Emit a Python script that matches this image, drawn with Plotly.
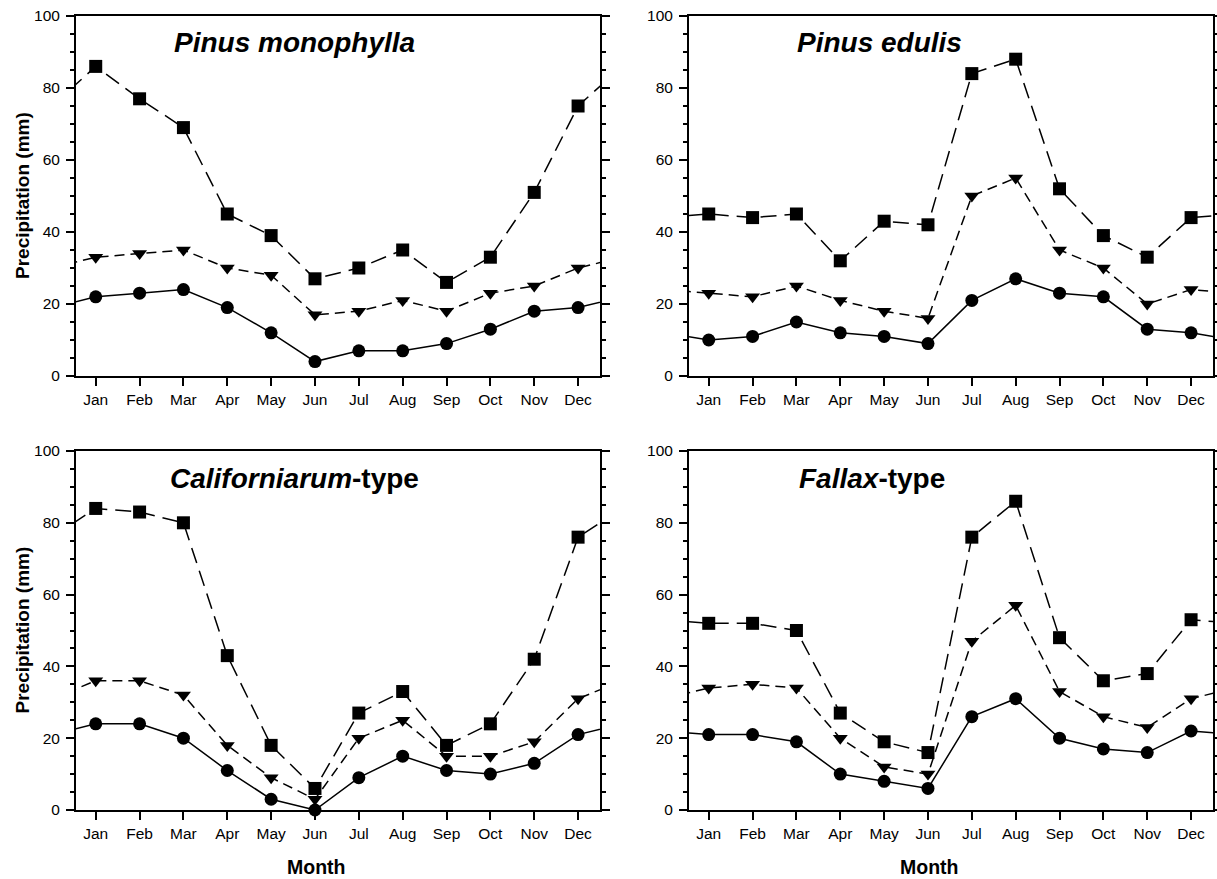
import plotly.graph_objects as go

months = ["Jan", "Feb", "Mar", "Apr", "May", "Jun", "Jul", "Aug", "Sep", "Oct", "Nov", "Dec"]
panel_titles = ["<b><i>Pinus monophylla</i></b>", "<b><i>Pinus edulis</i></b>",
                "<b><i>Californiarum</i>-type</b>", "<b><i>Fallax</i>-type</b>"]

# Pinus monophylla
pm_sq = [86, 77, 69, 45, 39, 27, 30, 35, 26, 33, 51, 75]
pm_tri = [33, 34, 35, 30, 28, 17, 18, 21, 18, 23, 25, 30]
pm_circ = [22, 23, 24, 19, 12, 4, 7, 7, 9, 13, 18, 19]
# Pinus edulis
pe_sq = [45, 44, 45, 32, 43, 42, 84, 88, 52, 39, 33, 44]
pe_tri = [23, 22, 25, 21, 18, 16, 50, 55, 35, 30, 20, 24]
pe_circ = [10, 11, 15, 12, 11, 9, 21, 27, 23, 22, 13, 12]
# Californiarum-type
ca_sq = [84, 83, 80, 43, 18, 6, 27, 33, 18, 24, 42, 76]
ca_tri = [36, 36, 32, 18, 9, 3, 20, 25, 15, 15, 19, 31]
ca_circ = [24, 24, 20, 11, 3, 0, 9, 15, 11, 10, 13, 21]
# Fallax-type
fa_sq = [52, 52, 50, 27, 19, 16, 76, 86, 48, 36, 38, 53]
fa_tri = [34, 35, 34, 20, 12, 10, 47, 57, 33, 26, 23, 31]
fa_circ = [21, 21, 19, 10, 8, 6, 26, 31, 20, 17, 16, 22]

panels = [
    (pm_sq, pm_tri, pm_circ),
    (pe_sq, pe_tri, pe_circ),
    (ca_sq, ca_tri, ca_circ),
    (fa_sq, fa_tri, fa_circ),
]

W, H = 1217, 879
FONT = "Arial, Liberation Sans, sans-serif"

# pixel geometry of the four plot boxes: (left, right, top, bottom)
boxes = [(76, 600, 16, 376), (689, 1213, 16, 376),
         (76, 600, 451, 810), (689, 1213, 451, 810)]
title_left = [172, 795, 168, 797]


def px(x):
    return x / W


def py(y):
    return 1 - y / H


fig = go.Figure()

styles = [
    ("square", "16px,8px", 13),
    ("triangle-down", "10px,6px", 13),
    ("circle", "solid", 13),
]

xm = list(range(1, 13))
for i, data in enumerate(panels):
    xa = "x" if i == 0 else f"x{i+1}"
    ya = "y" if i == 0 else f"y{i+1}"
    for (sym, dash, size), vals in zip(styles, data):
        # periodic wrap so lines run to the box edges
        xw = [0] + xm + [13]
        yw = [vals[-1]] + list(vals) + [vals[0]]
        fig.add_trace(go.Scatter(x=xw, y=yw, mode="lines", xaxis=xa, yaxis=ya,
                                 line=dict(color="black", width=1.5, dash=dash),
                                 showlegend=False, hoverinfo="skip"))
    for (sym, dash, size), vals in zip(styles, data):
        fig.add_trace(go.Scatter(x=xm, y=vals, mode="markers", xaxis=xa, yaxis=ya,
                                 marker=dict(symbol=sym, size=size, color="black",
                                             line=dict(width=0)),
                                 cliponaxis=False, showlegend=False))

layout = dict(width=W, height=H, margin=dict(l=0, r=0, t=0, b=0),
              plot_bgcolor="white", paper_bgcolor="white",
              font=dict(family=FONT, color="black", size=15.5))

annotations = []
for i, (l, r, t, b) in enumerate(boxes):
    sfx = "" if i == 0 else str(i + 1)
    layout["xaxis" + sfx] = dict(
        domain=[px(l), px(r)], range=[0.55, 12.5], anchor="y" + sfx,
        tickmode="array", tickvals=xm, ticktext=months,
        ticks="outside", ticklen=8, tickwidth=1.5, tickcolor="black",
        showline=True, linecolor="black", linewidth=2, mirror=True,
        showgrid=False, zeroline=False, automargin=False, ticklabeloverflow="allow",
        tickfont=dict(family=FONT, size=15.5, color="black"), ticklabelstandoff=0,
    )
    layout["yaxis" + sfx] = dict(
        domain=[py(b), py(t)], range=[0, 100], anchor="x" + sfx,
        tickmode="linear", tick0=0, dtick=20,
        ticks="outside", ticklen=8, tickwidth=1.5, tickcolor="black",
        minor=dict(dtick=5, ticks="outside", ticklen=4, tickwidth=1.5, tickcolor="black"),
        showline=True, linecolor="black", linewidth=2, mirror="ticks",
        showgrid=False, zeroline=False, automargin=False, ticklabeloverflow="allow",
        tickfont=dict(family=FONT, size=15.5, color="black"), ticklabelstandoff=3,
    )
    # panel title
    annotations.append(dict(text=panel_titles[i], xref="paper", yref="paper",
                            x=px(title_left[i]), y=py(t + 27),
                            xanchor="left", yanchor="middle", showarrow=False,
                            font=dict(family=FONT, size=28, color="black")))
    if i % 2 == 0:
        annotations.append(dict(text="<b>Precipitation (mm)</b>", xref="paper", yref="paper",
                                x=px(22), y=py((t + b) / 2), textangle=-90,
                                xanchor="center", yanchor="middle", showarrow=False,
                                font=dict(family=FONT, size=19, color="black")))
    if i >= 2:
        annotations.append(dict(text="<b>Month</b>", xref="paper", yref="paper",
                                x=px(l + 240), y=py(867),
                                xanchor="center", yanchor="middle", showarrow=False,
                                font=dict(family=FONT, size=19.5, color="black")))

layout["annotations"] = annotations
fig.update_layout(**layout)
fig.write_html("out.html",
               config={"displayModeBar": False},
               post_script="document.body.style.margin='0';"
                           "document.body.style.overflow='hidden';")
